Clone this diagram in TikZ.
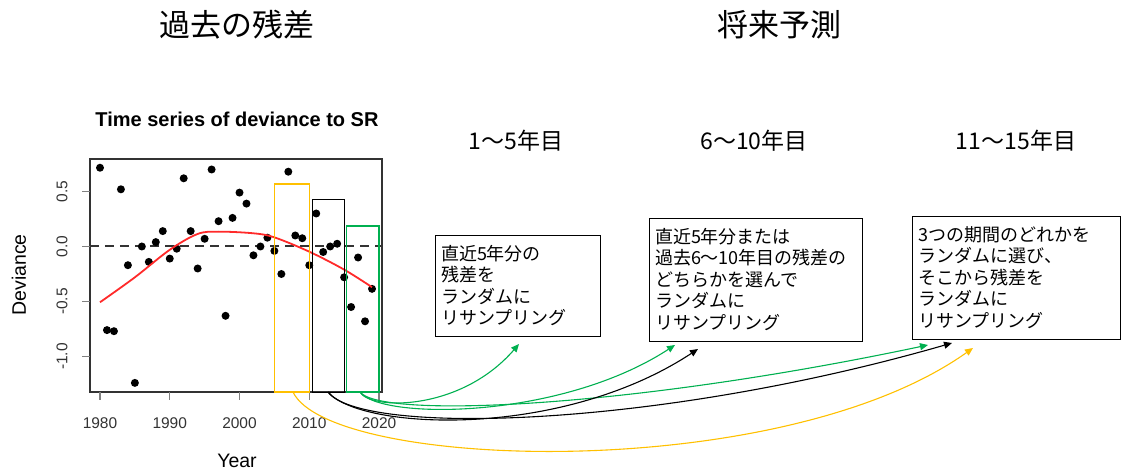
\documentclass[tikz,border=0pt]{standalone}
\usepackage{fontspec}
\setmainfont{Liberation Sans}
\newfontfamily\jpfont{Noto Sans CJK JP}
\usetikzlibrary{arrows.meta}

\definecolor{resgold}{HTML}{FFC000}
\definecolor{resgreen}{HTML}{00B050}
\definecolor{fitred}{HTML}{FF2A2A}
\definecolor{axisgray}{HTML}{333333}

\begin{document}
\begin{tikzpicture}[
    x=1pt, y=-1pt,
    heading/.style={font=\jpfont\fontsize{31}{36}\selectfont},
    period/.style={font=\jpfont\fontsize{23}{27}\selectfont},
    rulebox/.style={draw, line width=0.9pt, align=left, inner xsep=6pt,
                    font=\jpfont\fontsize{18}{21.5}\selectfont},
    tick/.style={font=\fontsize{15.5}{18}\selectfont, text=axisgray},
    axlabel/.style={font=\fontsize{19.5}{22}\selectfont},
    pick/.style={-{Triangle[length=8pt,width=7pt]}, line width=1.1pt},
    window/.style={line width=1.2pt},
]
    \useasboundingbox (0,0) rectangle (1121,470);

    % headings
    \node[heading] (past) at (236.5,24.5) {過去の残差};
    \node[heading] (future) at (779.5,24.5) {将来予測};
    \node[period] (yr1) at (516,141) {1〜5年目};
    \node[period] (yr2) at (754,141) {6〜10年目};
    \node[period] (yr3) at (1016,141) {11〜15年目};

    % residual plot, x = year - 1980, y = deviance
    \node[font=\bfseries\fontsize{20}{23}\selectfont] (title) at (237,119)
        {Time series of deviance to SR};
    \begin{scope}[shift={(100,246.5)}, x=6.975pt, y=110pt]
        \draw[line width=1.8pt, axisgray] (-1.434,-1.323) rectangle (40.43,0.795);
        \foreach \yr in {0,10,...,40} {
            \draw[line width=1.2pt, gray] (\yr,-1.323) -- ++(0pt,-8pt);
            \node[tick] (xt\yr) at (\yr,-1.605) {\the\numexpr1980+\yr\relax};
        }
        \foreach \v/\lab in {-1/-1.0,-0.5/-0.5,0/0.0,0.5/0.5} {
            \draw[line width=1.2pt, gray] (-1.434,\v) -- ++(-8pt,0pt);
            \node[tick, rotate=90] (yt\lab) at (-5.45,\v) {\lab};
        }
        \node[axlabel] (xlab) at (19.64,-1.95) {Year};
        \node[axlabel, rotate=90] (ylab) at (-11.61,-0.259) {Deviance};

        \draw[line width=2pt, axisgray, dash pattern=on 9pt off 6pt]
            (-1.434,0) -- (40.43,0);
        \foreach \i/\d in {0/0.716,1/-0.76,2/-0.77,3/0.52,4/-0.17,5/-1.24,
                6/0.0,7/-0.14,8/0.04,9/0.14,10/-0.11,11/-0.02,12/0.62,
                13/0.14,14/-0.20,15/0.07,16/0.70,17/0.23,18/-0.63,19/0.26,
                20/0.49,21/0.39,22/-0.08,23/0.0,24/0.08,25/-0.04,26/-0.25,
                27/0.68,28/0.10,29/0.075,30/-0.17,31/0.30,32/-0.05,33/0.0,
                34/0.025,35/-0.28,36/-0.55,37/-0.10,38/-0.68,39/-0.385}
            \fill (\i,\d) circle[radius=4pt];
        \draw[fitred, line width=1.8pt] plot[smooth, tension=0.55] coordinates
            {(0,-0.507) (5,-0.28) (10,-0.03) (14,0.114) (17,0.135)
             (22,0.12) (25,0.083) (30,-0.047) (35,-0.21) (39,-0.37)};

        \draw[window, resgold] (25,-1.323) rectangle (30,0.568);
        \draw[window, black, line width=0.9pt] (30.4,-1.323) rectangle (35,0.432);
        \draw[window, resgreen] (35.3,-1.323) rectangle (40,0.186);
    \end{scope}

    % resampling rules
    \node[rulebox, text width=153pt, minimum height=101pt] (box1) at (517.5,285.5)
        {直近5年分の\\残差を\\ランダムに\\リサンプリング};
    \node[rulebox, text width=201pt, minimum height=123pt] (box2) at (755.5,279.5)
        {直近5年分または\\過去6〜10年目の残差の\\どちらかを選んで\\ランダムに\\リサンプリング};
    \node[rulebox, text width=196pt, minimum height=123pt] (box3) at (1016,277.5)
        {3つの期間のどれかを\\ランダムに選び、\\そこから残差を\\ランダムに\\リサンプリング};

    \coordinate (ystart) at (293,392);
    \coordinate (kstart) at (328,392);
    \coordinate (gstart) at (360,392);
    \coordinate (g1) at (519,344);
    \coordinate (g2) at (675,345);
    \coordinate (k2) at (698,349);
    \coordinate (g3) at (928,345);
    \coordinate (k3) at (952,343);
    \coordinate (y3) at (973,348);

    \draw[pick, resgreen] (gstart) .. controls (370,410) and (460,412) .. (g1);
    \draw[pick, resgreen] (gstart) .. controls (380,420) and (560,420) .. (g2);
    \draw[pick, resgreen] (gstart) .. controls (380,418) and (620,410) .. (g3);
    \draw[pick, black] (kstart) .. controls (360,430) and (560,440) .. (k2);
    \draw[pick, black] (kstart) .. controls (360,435) and (650,430) .. (k3);
    \draw[pick, resgold] (ystart) .. controls (330,470) and (780,485) .. (y3);

\end{tikzpicture}
\end{document}
